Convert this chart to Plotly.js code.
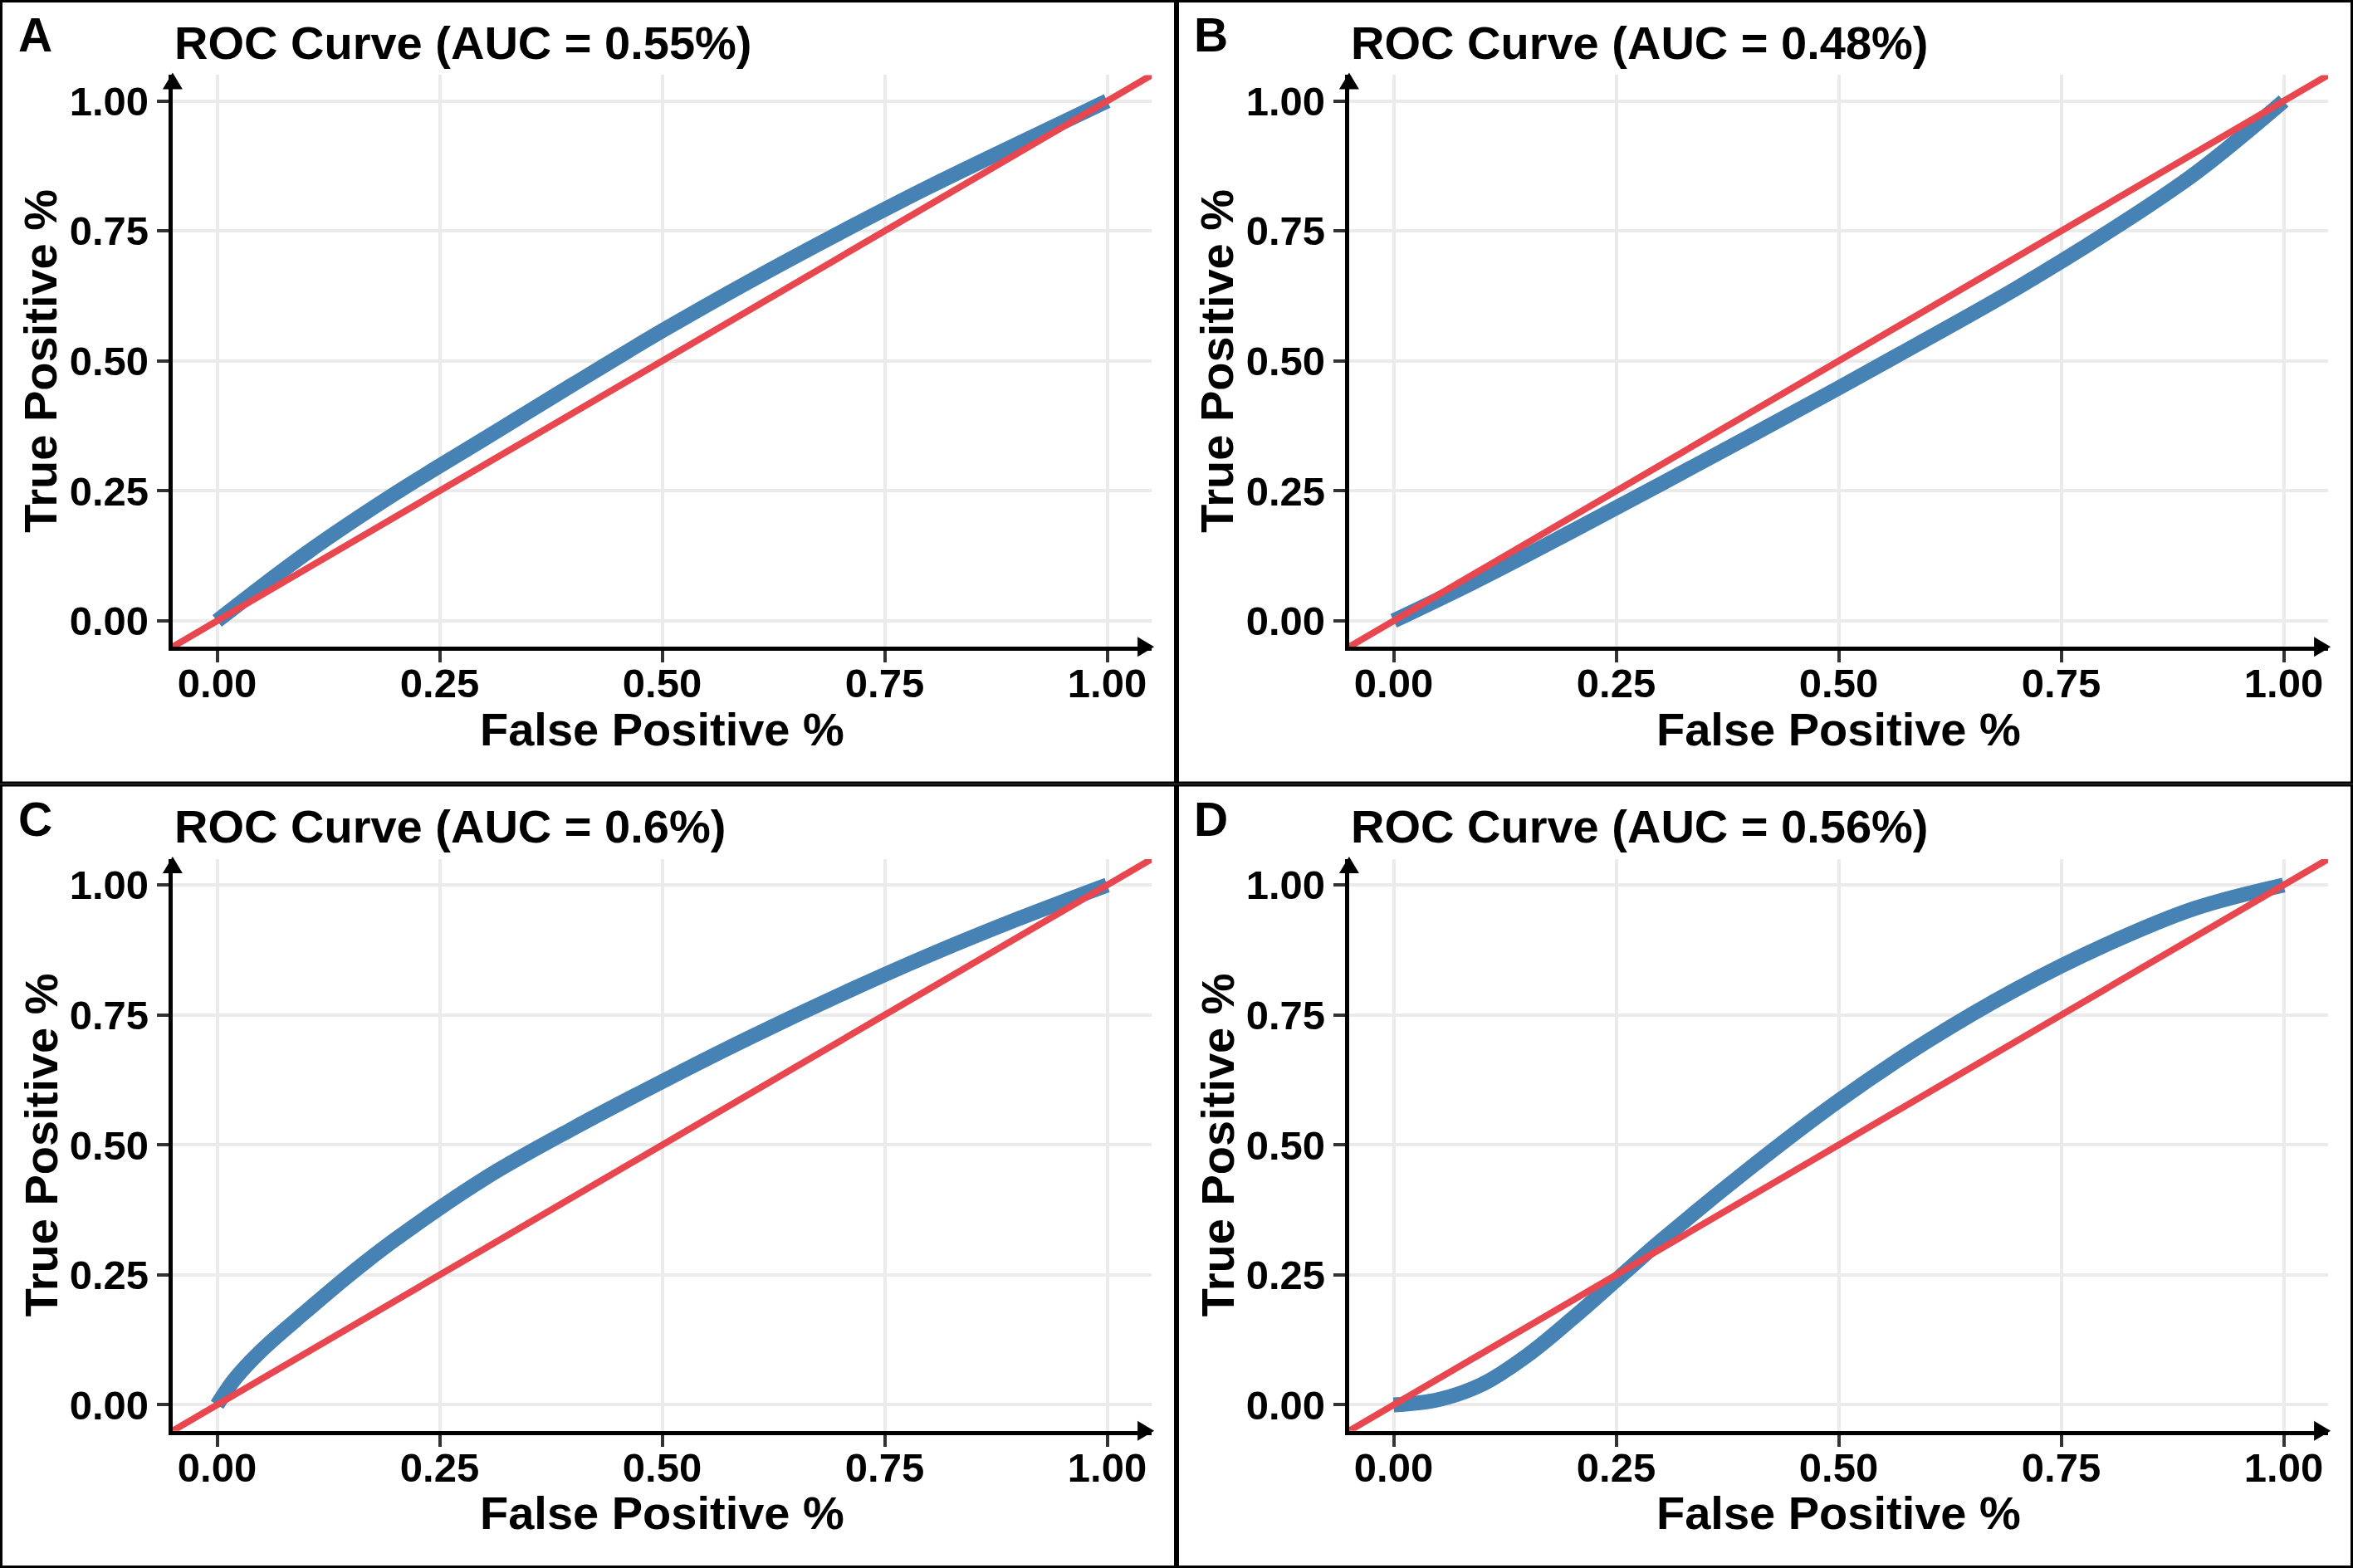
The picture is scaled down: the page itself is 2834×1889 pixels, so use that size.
<!DOCTYPE html>
<html><head><meta charset="utf-8">
<script src="https://cdn.plot.ly/plotly-3.0.1.min.js"></script>
<style>html,body{margin:0;padding:0;background:#fff}#chart{width:2834px;height:1889px}</style>
</head><body><div id="chart"></div>
<script>
// ---- data ----
const panelLetters = ['A', 'B', 'C', 'D'];
const panelTitles = ['ROC Curve (AUC = 0.55%)', 'ROC Curve (AUC = 0.48%)', 'ROC Curve (AUC = 0.6%)', 'ROC Curve (AUC = 0.56%)'];
const tickValues = [0, 0.25, 0.5, 0.75, 1];
const tickLabels = ['0.00', '0.25', '0.50', '0.75', '1.00'];
const xTitle = 'False Positive %';
const yTitle = 'True Positive %';
const axisRange = [-0.05, 1.05];

const fprA = [0, 0.1, 0.2, 0.3, 0.4, 0.5, 0.6, 0.7, 0.8, 0.9, 1];
const tprA = [0, 0.13, 0.245, 0.35, 0.455, 0.558, 0.655, 0.747, 0.835, 0.918, 1];

const fprB = [0, 0.1, 0.2, 0.3, 0.4, 0.5, 0.6, 0.7, 0.8, 0.9, 1];
const tprB = [0, 0.083, 0.172, 0.263, 0.355, 0.448, 0.543, 0.64, 0.745, 0.86, 1];

const fprC = [0, 0.02, 0.05, 0.1, 0.15, 0.2, 0.3, 0.4, 0.5, 0.6, 0.7, 0.8, 0.9, 1];
const tprC = [0, 0.05, 0.105, 0.18, 0.252, 0.318, 0.435, 0.532, 0.622, 0.708, 0.789, 0.865, 0.935, 1];

const fprD = [0, 0.05, 0.1, 0.15, 0.2, 0.25, 0.3, 0.4, 0.5, 0.6, 0.7, 0.8, 0.9, 1];
const tprD = [0, 0.01, 0.04, 0.095, 0.165, 0.24, 0.315, 0.455, 0.585, 0.70, 0.80, 0.885, 0.955, 1];

const fprSets = [fprA, fprB, fprC, fprD];
const tprSets = [tprA, tprB, tprC, tprD];

// ---- layout geometry ----
const W = 2834, H = 1889;
const FONT = 'Liberation Sans, Arial, sans-serif';
const BLUE = '#4682B4', RED = '#E8474F';
const panelW = W / 2, panelH = H / 2;
const plotL = 207.9, plotR = 1387.1, plotT = 90.4, plotB = 779.3;

const traces = [];
const layout = {
  width: W, height: H,
  margin: {l: 0, r: 0, t: 0, b: 0, pad: 0},
  paper_bgcolor: '#ffffff', plot_bgcolor: '#ffffff',
  showlegend: false,
  font: {family: FONT, color: '#000'},
  annotations: [], shapes: []
};

for (let i = 0; i < 4; i++) {
  const col = i % 2, row = Math.floor(i / 2);
  const ox = col * panelW, oy = row * panelH;
  const sfx = i === 0 ? '' : String(i + 1);
  const px = v => (ox + v) / W;
  const py = v => 1 - (oy + v) / H;

  const axBase = {
    range: axisRange, autorange: false,
    tickmode: 'array', tickvals: tickValues, ticktext: tickLabels,
    showgrid: true, gridcolor: '#EBEBEB', gridwidth: 4,
    zeroline: false,
    showline: true, linecolor: '#000000', linewidth: 5,
    ticks: 'outside', ticklen: 14, tickwidth: 4, tickcolor: '#333333',
    tickfont: {family: FONT, size: 49, color: '#000', weight: 'bold'},
    fixedrange: true
  };
  layout['xaxis' + sfx] = Object.assign({}, axBase, {
    domain: [px(plotL), px(plotR)], anchor: 'y' + sfx, ticklabelstandoff: -17
  });
  layout['yaxis' + sfx] = Object.assign({}, axBase, {
    domain: [py(plotB), py(plotT)], anchor: 'x' + sfx
  });

  traces.push({
    x: fprSets[i], y: tprSets[i], type: 'scatter', mode: 'lines',
    line: {color: BLUE, width: 18, shape: 'spline', smoothing: 1},
    xaxis: 'x' + sfx, yaxis: 'y' + sfx, hoverinfo: 'skip'
  });
  traces.push({
    x: axisRange, y: axisRange, type: 'scatter', mode: 'lines',
    line: {color: RED, width: 8},
    xaxis: 'x' + sfx, yaxis: 'y' + sfx, hoverinfo: 'skip'
  });

  // panel letter
  layout.annotations.push({
    text: panelLetters[i], xref: 'paper', yref: 'paper',
    x: px(42), y: py(42), xanchor: 'center', yanchor: 'middle',
    showarrow: false, font: {family: FONT, size: 57, color: '#000', weight: 'bold'}
  });
  // title
  layout.annotations.push({
    text: panelTitles[i], xref: 'paper', yref: 'paper',
    x: px(plotL), y: py(51), xanchor: 'left', yanchor: 'middle',
    showarrow: false, font: {family: FONT, size: 56, color: '#000', weight: 'bold'}
  });
  // x-axis title
  layout.annotations.push({
    text: xTitle, xref: 'paper', yref: 'paper',
    x: px((plotL + plotR) / 2), y: py(878), xanchor: 'center', yanchor: 'middle',
    showarrow: false, font: {family: FONT, size: 56, color: '#000', weight: 'bold'}
  });
  // y-axis title
  layout.annotations.push({
    text: yTitle, xref: 'paper', yref: 'paper', textangle: -90,
    x: px(49), y: py((plotT + plotB) / 2), xanchor: 'center', yanchor: 'middle',
    showarrow: false, font: {family: FONT, size: 56, color: '#000', weight: 'bold'}
  });

  // arrow heads on the axes
  layout.shapes.push({
    type: 'path', xref: 'paper', yref: 'paper', xsizemode: 'pixel', ysizemode: 'pixel',
    xanchor: px(plotR), yanchor: py(plotB),
    path: 'M -17,12 L 3,0 L -17,-12 Z', fillcolor: '#000', line: {width: 0}, layer: 'above'
  });
  layout.shapes.push({
    type: 'path', xref: 'paper', yref: 'paper', xsizemode: 'pixel', ysizemode: 'pixel',
    xanchor: px(plotL), yanchor: py(plotT),
    path: 'M -12,-17 L 0,3 L 12,-17 Z', fillcolor: '#000', line: {width: 0}, layer: 'above'
  });

  // panel border
  layout.shapes.push({
    type: 'rect', xref: 'paper', yref: 'paper',
    x0: px(1.5), x1: px(panelW - 1.5), y0: py(panelH - 1.5), y1: py(1.5),
    line: {color: '#000', width: 3}, fillcolor: 'rgba(0,0,0,0)', layer: 'above'
  });
}

Plotly.newPlot('chart', traces, layout, {displayModeBar: false, staticPlot: true});
</script>
</body></html>
